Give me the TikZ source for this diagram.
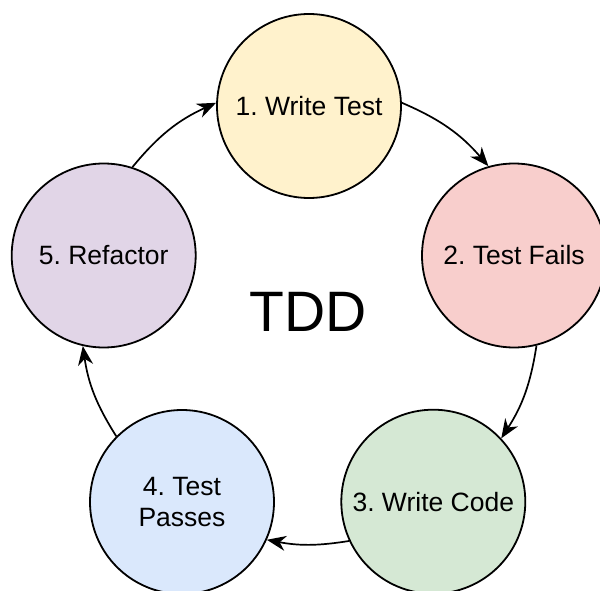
\documentclass[tikz,border=0pt]{standalone}
\usepackage{fontspec}
\setmainfont{Liberation Sans}
\usetikzlibrary{arrows.meta}
\definecolor{tddYellow}{HTML}{FFF2CC}
\definecolor{tddRed}{HTML}{F8CECC}
\definecolor{tddGreen}{HTML}{D5E8D4}
\definecolor{tddBlue}{HTML}{DAE8FC}
\definecolor{tddPurple}{HTML}{E1D5E7}
\frenchspacing

\begin{document}
\begin{tikzpicture}[x=1pt,y=1pt,
    stage/.style={circle,draw=black,line width=1.8pt,minimum size=184pt,inner sep=0pt,
      align=center,font=\fontsize{26.5}{31.5}\selectfont},
    flow/.style={line width=1.7pt,-{Stealth[length=19pt,width=15pt,inset=6pt]}}]
  \clip (0,0) rectangle (600,-591);
  \useasboundingbox (0,0) rectangle (600,-591);
  % the five steps of the cycle
  \foreach \name/\x/\y/\col/\lab in {wt/309/-106/tddYellow/{1. Write Test},
      tf/514/-255.5/tddRed/{2. Test Fails},
      wc/433.3/-501.7/tddGreen/{3. Write Code},
      tp/182/-502/tddBlue/{4. Test\\Passes},
      rf/103.7/-255.5/tddPurple/{5. Refactor}}{
    \node[stage,fill=\col] (\name) at (\x,\y) {\lab};
  }
  \node[font=\fontsize{57}{60}\selectfont] (tdd) at (308,-312) {TDD};
  % arrows round the cycle
  \foreach \a/\b/\bb in {wt.2/tf.106/13, tf.-76/wc.43/12, wc.-155.7/tp.-24.2/10,
      tp.135.7/rf.-103.6/12, rf.72.8/wt.178.3/13}{
    \draw[flow] (\a) to[bend left=\bb] (\b);
  }
\end{tikzpicture}
\end{document}
